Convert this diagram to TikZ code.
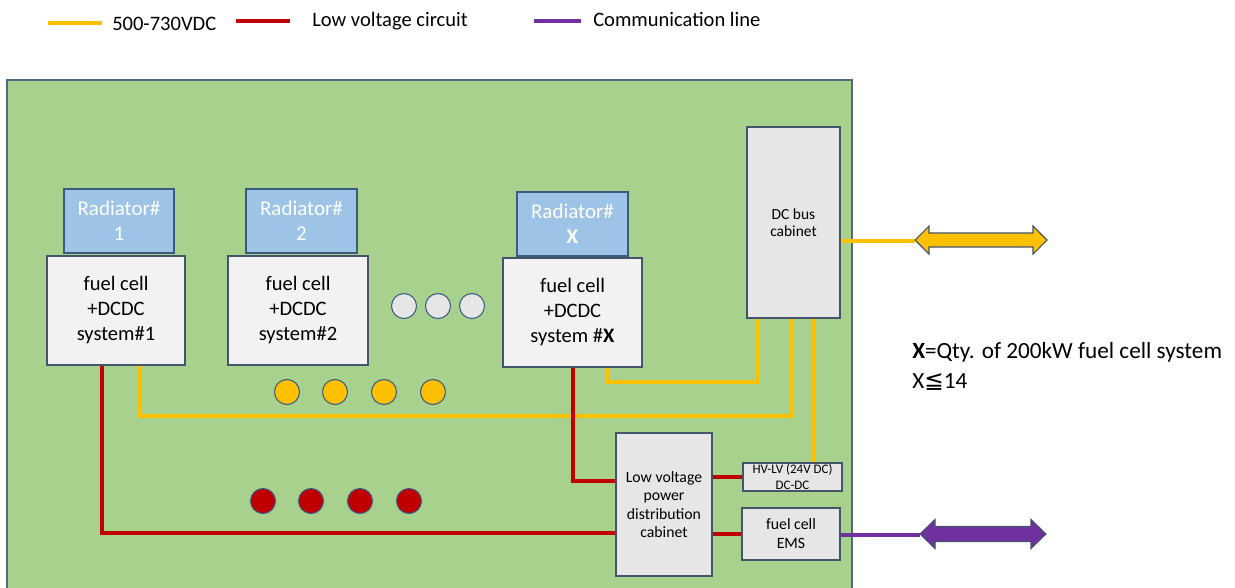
\documentclass[tikz,border=0pt]{standalone}
\usepackage{fontspec}
\setmainfont{Carlito}
\newfontfamily\dejavu{DejaVu Sans}
\usetikzlibrary{calc}
\definecolor{greenbg}{HTML}{A9D18E}
\definecolor{yel}{HTML}{FFC000}
\definecolor{redc}{HTML}{C00000}
\definecolor{purc}{HTML}{7030A0}
\definecolor{radfill}{HTML}{9DC3E6}
\definecolor{boxfill}{HTML}{F2F2F2}
\definecolor{cabfill}{HTML}{E6E6E6}
\definecolor{bordc}{HTML}{44546A}
\definecolor{radbord}{HTML}{3A5A80}
\definecolor{greenbord}{HTML}{4E6A7C}
\begin{document}
\begin{tikzpicture}[x=0.75pt,y=-0.75pt,
  fcbox/.style={draw=bordc, line width=1.1pt, fill=boxfill, inner sep=0pt, align=center,
    minimum height=81.75pt, font=\fontsize{15.4}{18.75}\selectfont},
  radbox/.style={draw=radbord, line width=1.1pt, fill=radfill, inner sep=0pt, align=center,
    minimum height=48pt, text=white, font=\fontsize{15.75}{18.75}\selectfont},
  cabbox/.style={draw=bordc, line width=1.1pt, fill=cabfill, inner sep=0pt, align=center},
  dotc/.style={circle, draw=radbord, line width=0.8pt, minimum size=18.75pt, inner sep=0pt},
  yline/.style={draw=yel, line width=3pt},
  rline/.style={draw=redc, line width=3pt},
  pline/.style={draw=purc, line width=3pt},
  legtext/.style={inner sep=0pt, anchor=base west, font=\fontsize{15.4}{18}\selectfont},
  notetext/.style={inner sep=0pt, anchor=base west, font=\fontsize{17.4}{20}\selectfont},
  arrowshape/.style={draw=bordc, line width=0.8pt, line join=miter}
]
\useasboundingbox (0,0) rectangle (1235,587);
\clip (0,0) rectangle (1235,587);

% legend
\coordinate (l1a) at (48,22.5); \coordinate (l1b) at (102,22.5);
\draw[yline] (l1a) -- (l1b);
\node[legtext] (lt1) at (112,30) {500-730VDC};
\coordinate (l2a) at (236,20.5); \coordinate (l2b) at (290,20.5);
\draw[rline] (l2a) -- (l2b);
\node[legtext] (lt2) at (312,26.5) {Low voltage circuit};
\coordinate (l3a) at (534,21); \coordinate (l3b) at (581,21);
\draw[pline] (l3a) -- (l3b);
\node[legtext] (lt3) at (593,26.5) {Communication line};

% green area
\draw[fill=greenbg, draw=greenbord, line width=1.1pt] (7,80) rectangle (852,600);

% fuel cell systems and radiators
\node[fcbox, minimum width=103.5pt] (fc1) at (116,310.5) {fuel cell\\+DCDC\\system\#1};
\node[radbox, minimum width=82.5pt] (rad1) at (119,221) {Radiator\#\\1};
\node[fcbox, minimum width=105pt] (fc2) at (298,310.5) {fuel cell\\+DCDC\\system\#2};
\node[radbox, minimum width=83.25pt] (rad2) at (301.5,221) {Radiator\#\\2};
\node[fcbox, minimum width=104.25pt] (fcX) at (572.5,312.5) {fuel cell\\+DCDC\\system \#\textbf{X}};
\node[radbox, minimum width=83.25pt] (radX) at (572.5,224) {Radiator\#\\\textbf{X}};

% grey dots
\node[dotc, fill=cabfill] (g1) at (404,306) {};
\node[dotc, fill=cabfill] (g2) at (438,306) {};
\node[dotc, fill=cabfill] (g3) at (472,306) {};

% yellow dots
\node[dotc, fill=yel] (y1) at (287,392) {};
\node[dotc, fill=yel] (y2) at (335,392) {};
\node[dotc, fill=yel] (y3) at (384,392) {};
\node[dotc, fill=yel] (y4) at (433,392) {};

% red dots
\node[dotc, fill=redc] (r1) at (263,501) {};
\node[dotc, fill=redc] (r2) at (311,501) {};
\node[dotc, fill=redc] (r3) at (360,501) {};
\node[dotc, fill=redc] (r4) at (409,501) {};

% cabinets
\node[cabbox, minimum width=69.75pt, minimum height=143.25pt,
  font=\fontsize{11.6}{12.75}\selectfont] (dcbus) at (793.5,222.5) {DC bus\\cabinet};
\node[cabbox, minimum width=72pt, minimum height=107.25pt,
  font=\fontsize{11.8}{13.9}\selectfont] (lv) at (664,504.5) {Low voltage\\power\\distribution\\cabinet};
\node[cabbox, minimum width=74.25pt, minimum height=21pt,
  font=\fontsize{9.75}{12}\selectfont] (hvlv) at (792.5,477) {HV-LV (24V DC)\\DC-DC};
\node[cabbox, minimum width=73.5pt, minimum height=39pt,
  font=\fontsize{11.85}{14.25}\selectfont] (ems) at (791,534) {fuel cell\\EMS};

% yellow connectors
\draw[yline] ($(fc1.south)+(23,0)$) -- ++(0,50) -| ($(dcbus.south)+(-1.5,0)$);
\draw[yline] ($(fcX.south)+(35.5,0)$) -- ++(0,14) -| ($(dcbus.south)+(-35.5,0)$);
\coordinate (yv3) at ($(dcbus.south)+(19.5,0)$);
\draw[yline] (yv3) -- (yv3 |- hvlv.north);
\coordinate (yarrow) at (915,241);
\draw[yline] (dcbus.east |- yarrow) -- (yarrow);

% red connectors
\draw[rline] ($(fc1.south)+(-14,0)$) |- ($(lv.west)+(0,28.5)$);
\draw[rline] (fcX.south) |- ($(lv.west)+(0,-23.5)$);
\draw[rline] (lv.east |- hvlv.west) -- (hvlv.west);
\draw[rline] (lv.east |- ems.west) -- (ems.west);

% purple connector
\coordinate (parrow) at (920,535);
\draw[pline] (ems.east |- parrow) -- (parrow);

% double arrows
\draw[arrowshape, fill=yel] (915,240) -- (929,226) -- (929,233) -- (1033,233) -- (1033,226)
  -- (1047,240) -- (1033,254) -- (1033,247) -- (929,247) -- (929,254) -- cycle;
\draw[arrowshape, fill=purc] (920,534) -- (935,519.5) -- (935,526.5) -- (1031,526.5) -- (1031,519.5)
  -- (1046,534) -- (1031,548.5) -- (1031,541.5) -- (935,541.5) -- (935,548.5) -- cycle;

% note
\node[notetext] (note1) at (912,358) {\textbf{X}=Qty. of 200kW fuel cell system};
\node[notetext] (note2) at (912,388) {X{\dejavu ≦}14};
\end{tikzpicture}
\end{document}
